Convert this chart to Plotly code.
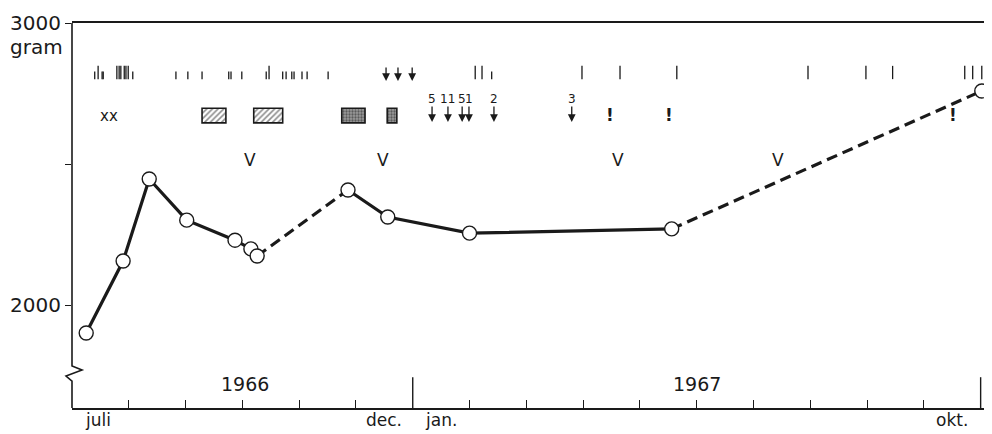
import plotly.graph_objects as go

# ---------------- data ----------------
# x in months since 1 July 1966 (0 = begin juli 1966, 6 = begin jan. 1967, 16 = begin nov. 1967)
weight_month = [0.25, 0.90, 1.36, 2.02, 2.87, 3.15, 3.26, 4.86, 5.56, 7.00, 10.56, 16.02]
weight_gram = [1901, 2156, 2447, 2301, 2230, 2199, 2174, 2408, 2312, 2255, 2270, 2759]
# style of segment between consecutive points: True = dashed (interpolated)
segment_dashed = [False, False, False, False, False, False, True, False, False, False, True]

# top row tally marks (month, 1 = short, 2 = tall)
tally_month = [0.40, 0.46, 0.53, 0.55, 0.79, 0.83, 0.86, 0.92, 0.95, 0.99, 1.07,
               1.83, 2.04, 2.29, 2.76, 2.80, 2.99, 3.42, 3.47, 3.71, 3.77, 3.87,
               3.91, 4.05, 4.14, 4.51, 7.10, 7.22, 7.39, 8.98, 9.65, 10.65, 12.96,
               13.98, 14.45, 15.72, 15.86, 16.02]
tally_kind = [1, 2, 1, 1, 2, 2, 2, 2, 2, 2, 1,
              1, 1, 1, 1, 1, 1, 1, 2, 1, 1, 1,
              1, 1, 1, 1, 2, 2, 1, 2, 2, 2, 2,
              2, 2, 2, 2, 2]

top_arrow_month = [5.53, 5.74, 5.99]

num_arrow_month = [6.34, 6.62, 6.87, 6.99, 7.43, 8.80]
num_arrow_label = ["5", "11", "5", "1", "2", "3"]

block_start = [2.29, 3.20, 4.75, 5.55]
block_end = [2.71, 3.71, 5.16, 5.72]
block_kind = ["hatch", "hatch", "dots", "dots"]

xx_month = 0.65
excl_month = [9.47, 10.51, 15.51]
v_month = [3.13, 5.48, 9.61, 12.43]

month_label_pos = [0.45, 5.5, 6.5, 15.5]
month_label_text = ["juli", "dec.", "jan.", "okt."]
year_label_pos = [3.05, 11.0]
year_label_text = ["1966", "1967"]
year_boundary = [6, 16]
month_ticks = [1, 2, 3, 4, 5, 7, 8, 9, 10, 11, 12, 13, 14, 15]

y_tick_vals = [2000, 2500, 3000]
y_tick_text = ["2000", "", "3000"]

# ---------------- figure ----------------
FONT = "DejaVu Sans"
INK = "#1a1a1a"
fig = go.Figure()

# tally marks
tx, ty = [], []
for m, k in zip(tally_month, tally_kind):
    tx += [m, m, None]
    ty += [2801, 2848 if k == 2 else 2828, None]
fig.add_trace(go.Scatter(x=tx, y=ty, mode="lines", line=dict(color=INK, width=1.3),
                         hoverinfo="skip", showlegend=False))

# blocks (hatched / stippled)
fig.add_trace(go.Bar(
    orientation="h",
    y=[2672] * len(block_start),
    x=[e - s for s, e in zip(block_start, block_end)],
    base=block_start,
    width=52,
    marker=dict(color="white", line=dict(color=INK, width=1.6),
                pattern=dict(shape=["/" if k == "hatch" else "." for k in block_kind],
                             fgcolor=INK,
                             bgcolor=["white" if k == "hatch" else "#9a9a9a" for k in block_kind],
                             size=[4 if k == "hatch" else 3 for k in block_kind],
                             solidity=[0.4 if k == "hatch" else 0.45 for k in block_kind])),
    showlegend=False, hoverinfo="skip"))

# weight curve: group contiguous segments of the same style
runs = []
start = 0
for i in range(1, len(segment_dashed) + 1):
    if i == len(segment_dashed) or segment_dashed[i] != segment_dashed[start]:
        runs.append((start, i, segment_dashed[start]))
        start = i
for a, b, dashed in runs:
    fig.add_trace(go.Scatter(
        x=weight_month[a:b + 1], y=weight_gram[a:b + 1], mode="lines",
        line=dict(color=INK, width=3.2, dash="11px,6px" if dashed else "solid"),
        showlegend=False, hoverinfo="skip"))
fig.add_trace(go.Scatter(
    x=weight_month, y=weight_gram, mode="markers",
    marker=dict(size=14, color="white", line=dict(color=INK, width=1.4)),
    cliponaxis=False, showlegend=False))

annotations = []
# top row arrows
for m in top_arrow_month:
    annotations.append(dict(x=m, y=2794, xref="x", yref="y", text="", showarrow=True,
                            ax=0, ay=-15, arrowhead=2, arrowsize=1.2, arrowwidth=1.3,
                            arrowcolor=INK))
# numbered arrows
for m, t in zip(num_arrow_month, num_arrow_label):
    annotations.append(dict(x=m, y=2649, xref="x", yref="y", text=t, showarrow=True,
                            ax=0, ay=-23, arrowhead=2, arrowsize=1.2, arrowwidth=1.3,
                            arrowcolor=INK, standoff=0, borderpad=0,
                            font=dict(family=FONT, size=12, color=INK)))
# xx
annotations.append(dict(x=xx_month, y=2672, xref="x", yref="y", text="xx", showarrow=False,
                        font=dict(family=FONT, size=15, color=INK)))
# exclamation marks
for m in excl_month:
    annotations.append(dict(x=m, y=2674, xref="x", yref="y", text="<b>!</b>", showarrow=False,
                        font=dict(family=FONT, size=17, color=INK)))
# V marks
for m in v_month:
    annotations.append(dict(x=m, y=2514, xref="x", yref="y", text="V", showarrow=False,
                        font=dict(family=FONT, size=17, color=INK)))
# month labels
for m, t in zip(month_label_pos, month_label_text):
    annotations.append(dict(x=m, y=0, xref="x", yref="paper", text=t, showarrow=False,
                            yanchor="top", yshift=-1, borderpad=0,
                            font=dict(family=FONT, size=17, color=INK)))
# year labels
for m, t in zip(year_label_pos, year_label_text):
    annotations.append(dict(x=m, y=1720, xref="x", yref="y", text=t, showarrow=False,
                            font=dict(family=FONT, size=19, color=INK)))
# unit label
annotations.append(dict(x=-0.008, y=2915, xref="paper", yref="y", text="gram", showarrow=False,
                        xanchor="right", font=dict(family=FONT, size=20, color=INK)))

shapes = []
# y axis with break
shapes.append(dict(type="path", xref="paper", yref="paper",
                   path="M 0,1 L 0,0.1091 L 0.0109,0.0987 L -0.0065,0.0831 L 0,0.0701 L 0,0",
                   line=dict(color=INK, width=1.6)))
# tall ticks at year boundaries
for m in year_boundary:
    shapes.append(dict(type="line", xref="x", yref="paper", x0=m, x1=m, y0=0, y1=0.08,
                       line=dict(color=INK, width=1.4)))

# the page body has an 8px margin: size the figure so it fills the 992x434 window
fig.update_layout(
    width=984, height=426, autosize=False,
    margin=dict(l=64, r=0, t=15, b=26),
    plot_bgcolor="white", paper_bgcolor="white",
    barmode="overlay", showlegend=False,
    annotations=annotations, shapes=shapes,
    font=dict(family=FONT, color=INK),
    xaxis=dict(range=[0, 16.2], showline=True, linecolor=INK, linewidth=1.6, mirror=True,
               ticks="inside", tickvals=month_ticks, ticklen=8, tickwidth=1.3, tickcolor=INK,
               showticklabels=False, showgrid=False, zeroline=False, fixedrange=True),
    yaxis=dict(range=[1635, 3000], showline=False, ticks="outside", ticklen=6, tickwidth=1.3,
               tickcolor=INK, tickvals=y_tick_vals, ticktext=y_tick_text,
               tickfont=dict(family=FONT, size=20, color=INK),
               showgrid=False, zeroline=False, fixedrange=True),
)

fig.write_html("out.html")
